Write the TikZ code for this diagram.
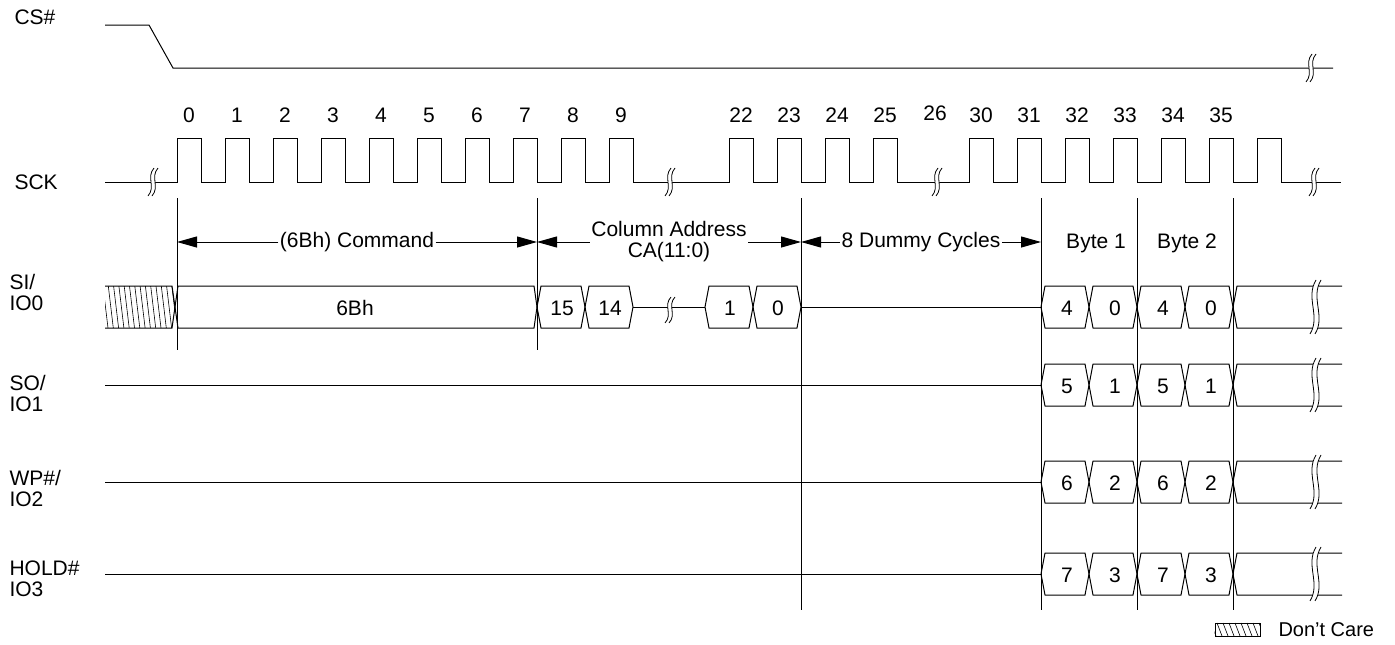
\documentclass[tikz,border=0pt]{standalone}
\usepackage{fontspec}
\setmainfont{Liberation Sans}
\usetikzlibrary{arrows.meta}
\tikzset{
	lbl/.style={font=\fontsize{21}{21}\selectfont, inner sep=1pt},
	sig/.style={lbl, anchor=west, align=left},
	dimarrow/.style={-{Triangle[length=20pt,width=11pt]}},
	brkline/.style={line width=0.8pt},
}
\begin{document}
\begin{tikzpicture}[x=1pt, y=-1pt, line width=1pt]
	\useasboundingbox (0,0) rectangle (1395,645);
	% signal names
	\node[sig] (cs) at (13,17) {CS\#};
	\node[sig] (sck) at (13,182) {SCK};
	\node[sig] (si) at (8,292) {SI/\\IO0};
	\node[sig] (so) at (8,393) {SO/\\IO1};
	\node[sig] (wp) at (8,488) {WP\#/\\IO2};
	\node[sig] (hold) at (8,579) {HOLD\#\\IO3};

	% CS#
	\draw (105,25) -- (149,25) -- (173,68) -- (1333,68);

	% SCK
	\draw (105,182) -- (177,182) (633,182) -- (729,182) (897,182) -- (969,182) (1281,182) -- (1341,182);
	\foreach \r in {177,225,273,321,369,417,465,513,561,609,729,777,825,873,969,1017,1065,1113,1161,1209,1257}
		\draw (\r-24,182) -- (\r,182) -- (\r,138) -- (\r+24,138) -- (\r+24,182);
	\foreach \k in {0,...,9}
		\node[lbl] (c\k) at (189+48*\k,115) {\k};
	\foreach \k in {22,...,25}
		\node[lbl] (c\k) at (48*\k-315,115) {\k};
	\foreach \k in {30,...,35}
		\node[lbl] (c\k) at (48*\k-459,115) {\k};
	\node[lbl] (c26) at (935,113) {26};

	% SI/IO0: don't care, command and address
	\begin{scope}
		\clip (105,286) -- (172,286) -- (175,307) -- (172,328) -- (105,328) -- cycle;
		\foreach \h in {0,...,13}
			\draw[line width=0.6pt] (103+5.3*\h,286) -- (108+5.3*\h,328);
	\end{scope}
	\draw (105,286) -- (172,286) -- (175,307) -- (172,328) -- (105,328);
	\draw (178,286) -- (534,286) -- (537,307) -- (534,328) -- (178,328) -- (175,307) -- cycle;
	\node[lbl] (op) at (355,308) {6Bh};
	\foreach \a/\t in {537/15, 585/14, 705/1, 753/0}
	{
		\draw (\a+4,286) -- (\a+44,286) -- (\a+48,307) -- (\a+44,328) -- (\a+4,328) -- (\a,307) -- cycle;
		\node[lbl] (a\t) at (\a+25,308) {\t};
	}
	\draw (633,307) -- (705,307) (801,307) -- (1041,307);
	\foreach \y in {385,482,574}
		\draw (105,\y) -- (1041,\y);

	% data bytes
	\foreach \y/\hb/\lb in {307/4/0, 385/5/1, 482/6/2, 574/7/3}
	{
		\foreach \a/\t in {1041/\hb, 1089/\lb, 1137/\hb, 1185/\lb}
		{
			\draw (\a+4,\y-21) -- (\a+44,\y-21) -- (\a+48,\y) -- (\a+44,\y+21) -- (\a+4,\y+21) -- (\a,\y) -- cycle;
			\node[lbl] (d\y-\a) at (\a+26,\y+1) {\t};
		}
		\draw (1342,\y-21) -- (1237,\y-21) -- (1233,\y) -- (1237,\y+21) -- (1342,\y+21);
	}

	% breaks
	\foreach \bx/\by/\bh/\bw/\bg in {151/182/28/5/4, 668/182/28/5/4, 935/182/28/5/4, 1312/182/28/5/4, 1309/68/28/5/4, 668/310/26/5/4, 1313/307/54/8/5, 1313/385/54/8/5, 1313/482/54/8/5, 1313/574/54/8/5}
	{
		\fill[white] (\bx+3,\by-\bh/2) .. controls (\bx-\bw,\by-\bh/6) and (\bx+\bw,\by+\bh/6) .. (\bx-3,\by+\bh/2)
			-- (\bx-3+\bg,\by+\bh/2) .. controls (\bx+\bw+\bg,\by+\bh/6) and (\bx-\bw+\bg,\by-\bh/6) .. (\bx+3+\bg,\by-\bh/2) -- cycle;
		\draw[brkline] (\bx+3,\by-\bh/2) .. controls (\bx-\bw,\by-\bh/6) and (\bx+\bw,\by+\bh/6) .. (\bx-3,\by+\bh/2);
		\draw[brkline] (\bx+3+\bg,\by-\bh/2) .. controls (\bx-\bw+\bg,\by-\bh/6) and (\bx+\bw+\bg,\by+\bh/6) .. (\bx-3+\bg,\by+\bh/2);
	}

	% markers
	\foreach \x/\yb in {177/350, 537/350, 801/610, 1041/610, 1137/610, 1233/610}
		\draw (\x,198) -- (\x,\yb);
	\coordinate (k0) at (177,242);
	\coordinate (k1) at (537,242);
	\coordinate (k2) at (801,242);
	\coordinate (k3) at (1041,242);
	\node[lbl] (cmd) at (357,242) {(6Bh) Command};
	\node[lbl, align=center] (col) at (669,242) {Column Address\\CA(11:0)};
	\node[lbl] (dum) at (921,242) {8 Dummy Cycles};
	\draw[dimarrow] (cmd) -- (k0);
	\draw[dimarrow] (cmd) -- (k1);
	\draw[dimarrow] (col) -- (k1);
	\draw[dimarrow] (col) -- (k2);
	\draw[dimarrow] (dum) -- (k2);
	\draw[dimarrow] (dum) -- (k3);
	\node[lbl] (b1) at (1096,243) {Byte 1};
	\node[lbl] (b2) at (1187,243) {Byte 2};

	% legend
	\node[draw, line width=0.8pt, minimum width=45, minimum height=13, inner sep=0pt] (dc) at (1237.5,629.5) {};
	\begin{scope}
		\clip (dc.south west) rectangle (dc.north east);
		\foreach \h in {0,...,8}
			\draw[line width=0.6pt] (1211+6*\h,623) -- (1216+6*\h,636);
	\end{scope}
	\node[sig, font=\fontsize{20}{20}\selectfont] (dct) at (1277,630) {Don’t Care};
\end{tikzpicture}
\end{document}
